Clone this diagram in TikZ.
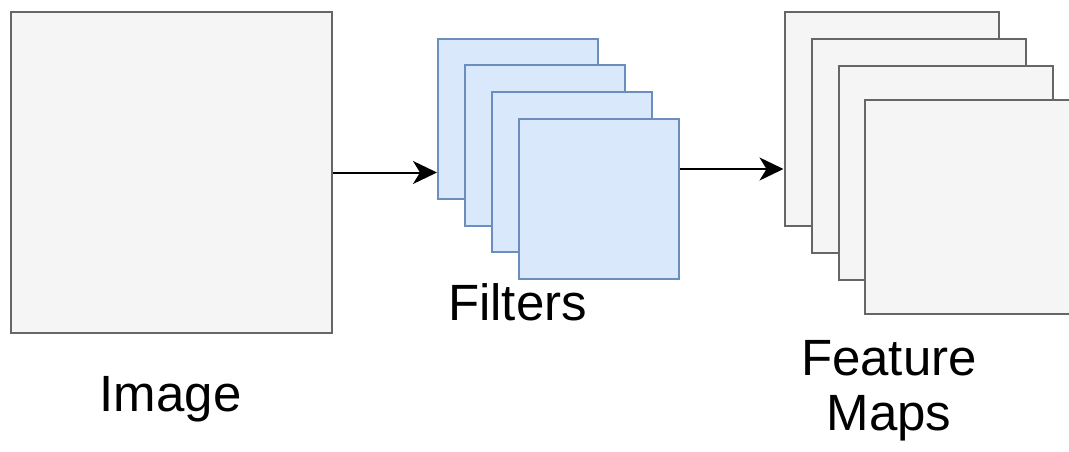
\documentclass[tikz,border=0pt]{standalone}
\usepackage{fontspec}
\setmainfont{Liberation Sans}
\usetikzlibrary{arrows.meta}
\definecolor{grayfill}{HTML}{F5F5F5}
\definecolor{graydraw}{HTML}{666666}
\definecolor{bluefill}{HTML}{DAE8FC}
\definecolor{bluedraw}{HTML}{6C8EBF}
\tikzset{
  graybox/.style={draw=graydraw, fill=grayfill, line width=2pt, rectangle, anchor=north west, inner sep=0pt},
  bluebox/.style={draw=bluedraw, fill=bluefill, line width=2pt, rectangle, anchor=north west, inner sep=0pt, minimum width=160pt, minimum height=160pt},
  fmbox/.style={graybox, minimum width=214pt, minimum height=214pt},
  conn/.style={draw=black, line width=2pt, -{Stealth[length=24pt,width=23pt,inset=7pt]}},
  lbl/.style={font=\fontsize{51}{55}\selectfont, inner sep=0pt, align=center}
}
\begin{document}
\begin{tikzpicture}[x=1pt,y=-1pt]
\useasboundingbox (0,0) rectangle (1069,452);
\node[graybox, minimum width=321pt, minimum height=321pt] (img) at (10,11) {};
\node[bluebox] (f1) at (437,38) {};
\node[bluebox] (f2) at (464,64.5) {};
\node[bluebox] (f3) at (491,91) {};
\node[bluebox] (f4) at (517.5,118) {};
\node[fmbox] (m1) at (783.5,11) {};
\node[fmbox] (m2) at (810.5,38) {};
\node[fmbox] (m3) at (837.5,65) {};
\node[fmbox] (m4) at (864,99) {};
\coordinate (a2) at (0,169);
\draw[conn] (img.east) -- (img.east -| f1.west);
\draw[conn] (f4.east |- a2) -- (m1.west |- a2);
\node[lbl, anchor=base] (limg) at (170.5,411.5) {Image};
\node[lbl, anchor=base] (lfil) at (517.5,320) {Filters};
\node[lbl, anchor=north] (lfm) at (889,340) {Feature\\Maps};
\end{tikzpicture}
\end{document}
